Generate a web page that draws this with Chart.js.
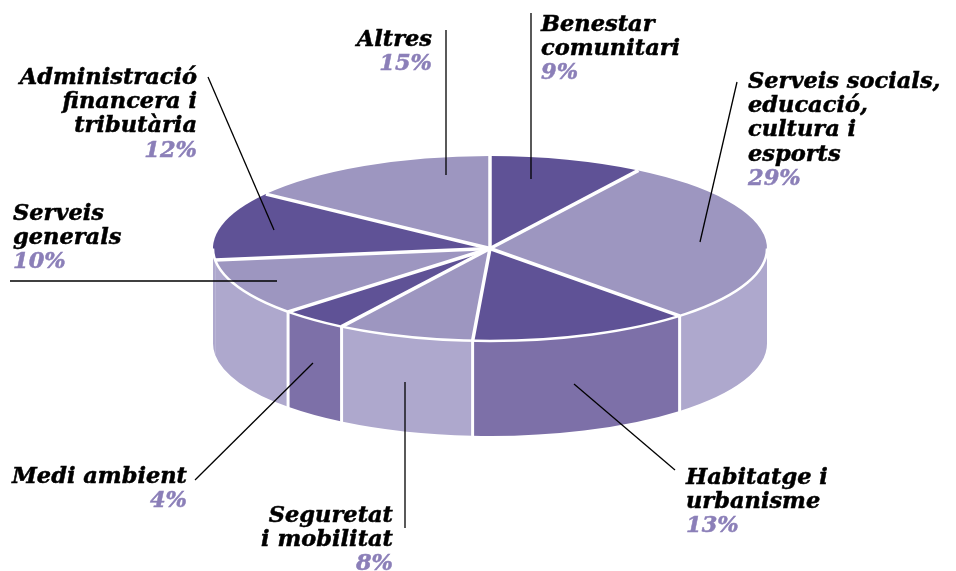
<!DOCTYPE html>
<html>
<head>
<meta charset="utf-8">
<title>Despesa per àrees</title>
<script src="https://cdn.jsdelivr.net/npm/chart.js@4"></script>
<style>
  html, body { margin: 0; padding: 0; background: #fff; }
  canvas { display: block; }
</style>
</head>
<body>
<canvas id="pieChart" width="956" height="571"></canvas>
<script>
// data, clockwise from the top
const categories = ["Benestar comunitari", "Serveis socials, educació, cultura i esports", "Habitatge i urbanisme",
  "Seguretat i mobilitat", "Medi ambient", "Serveis generals", "Administració financera i tributària", "Altres"];
const shares = [9, 29, 13, 8, 4, 10, 12, 15];

// colours
const topColors = ["#5f5296", "#9d96c0", "#5f5296", "#9d96c0", "#5f5296", "#9d96c0", "#5f5296", "#9d96c0"];
const wallColors = ["#7d70a8", "#aea8cd", "#7d70a8", "#aea8cd", "#7d70a8", "#aea8cd", "#aea8cd", "#aea8cd"];
const PERCENT_COLOR = "#8b7fb8";

// look of the fake 3d disc
const CENTER_X = 490;
const CENTER_Y = 248.5;
const RADIUS = 277;
const SQUASH = 0.334;
const DEPTH = 95;

// annotations: text lines, align, x, first baseline
const labelLayout = [
  { lines: ["Benestar", "comunitari"], align: "left", x: 541, y: 31 },
  { lines: ["Serveis socials,", "educació,", "cultura i", "esports"], align: "left", x: 748, y: 88 },
  { lines: ["Habitatge i", "urbanisme"], align: "left", x: 686, y: 484 },
  { lines: ["Seguretat", "i mobilitat"], align: "right", x: 393, y: 522 },
  { lines: ["Medi ambient"], align: "right", x: 187, y: 483 },
  { lines: ["Serveis", "generals"], align: "left", x: 13, y: 220 },
  { lines: ["Administració", "financera i", "tributària"], align: "right", x: 197, y: 84 },
  { lines: ["Altres"], align: "right", x: 432, y: 46 },
];
const leaders = [
  [531, 13, 531, 179],
  [737, 82, 700, 242],
  [574, 384, 675, 470],
  [405, 382, 405, 528],
  [313, 363, 195, 480],
  [10, 281, 277, 281],
  [208, 77, 274, 230],
  [446, 30, 446, 175],
];
const LINE_HEIGHT = 24.2;
const LABEL_FONT = "italic bold 22.5px 'DejaVu Serif'";

const disc3d = {
  id: "disc3d",
  beforeDatasetsDraw(chart) {
    const ctx = chart.ctx;
    const arcs = chart.getDatasetMeta(0).data;
    const ry = RADIUS * SQUASH;
    ctx.save();
    // side walls, only the part of each slice facing us
    arcs.forEach((arc, i) => {
      const a0 = Math.max(norm(arc.startAngle), 0);
      const a1 = Math.min(norm(arc.startAngle) + (arc.endAngle - arc.startAngle), Math.PI);
      if (a1 <= a0) return;
      ctx.beginPath();
      ctx.ellipse(CENTER_X, CENTER_Y, arc.outerRadius, ry, 0, a0, a1);
      ctx.ellipse(CENTER_X, CENTER_Y + DEPTH, arc.outerRadius, ry, 0, a1, a0, true);
      ctx.closePath();
      ctx.fillStyle = wallColors[i];
      ctx.fill();
    });
    // white lines between the walls, none right at the left edge
    ctx.strokeStyle = "#fff";
    ctx.lineWidth = 3;
    arcs.forEach((arc) => {
      const a = norm(arc.startAngle);
      if (a <= 0 || a >= 2.9) return;
      const x = CENTER_X + Math.cos(a) * arc.outerRadius;
      const y = CENTER_Y + Math.sin(a) * ry;
      ctx.beginPath();
      ctx.moveTo(x, y);
      ctx.lineTo(x, y + DEPTH + 2);
      ctx.stroke();
    });
    ctx.restore();

    // squash the pie itself
    const first = arcs[0];
    ctx.save();
    ctx.translate(CENTER_X, CENTER_Y);
    ctx.scale(1, SQUASH);
    ctx.translate(-first.x, -first.y);
  },
  afterDatasetsDraw(chart) {
    const ctx = chart.ctx;
    ctx.restore();
    const arcs = chart.getDatasetMeta(0).data;
    const ry = RADIUS * SQUASH;
    ctx.save();
    ctx.strokeStyle = "#fff";
    // rim on the front edge
    ctx.lineWidth = 2.5;
    ctx.beginPath();
    ctx.ellipse(CENTER_X, CENTER_Y, arcs[0].outerRadius, ry, 0, 0, Math.PI);
    ctx.stroke();
    // separators keep the same width on screen
    ctx.lineWidth = 3.5;
    arcs.forEach((arc) => {
      ctx.beginPath();
      ctx.moveTo(CENTER_X, CENTER_Y);
      ctx.lineTo(CENTER_X + Math.cos(arc.startAngle) * arc.outerRadius, CENTER_Y + Math.sin(arc.startAngle) * ry);
      ctx.stroke();
    });
    ctx.restore();
  },
  afterDraw(chart) {
    const ctx = chart.ctx;
    ctx.save();
    ctx.strokeStyle = "#000";
    ctx.lineWidth = 1.3;
    leaders.forEach((l) => {
      ctx.beginPath();
      ctx.moveTo(l[0], l[1]);
      ctx.lineTo(l[2], l[3]);
      ctx.stroke();
    });
    ctx.font = LABEL_FONT;
    ctx.textBaseline = "alphabetic";
    ctx.lineWidth = 0.5; // the reference type is heavier than DejaVu bold
    const put = (text, x, y, color) => {
      ctx.fillStyle = color;
      ctx.strokeStyle = color;
      ctx.fillText(text, x, y);
      ctx.strokeText(text, x, y);
    };
    labelLayout.forEach((lab, i) => {
      ctx.textAlign = lab.align;
      lab.lines.forEach((line, n) => put(line, lab.x, lab.y + n * LINE_HEIGHT, "#000"));
      put(shares[i] + "%", lab.x, lab.y + lab.lines.length * LINE_HEIGHT, PERCENT_COLOR);
    });
    ctx.restore();
  },
};

function norm(a) {
  // angle into -PI..PI range
  let r = a % (Math.PI * 2);
  if (r > Math.PI) r -= Math.PI * 2;
  if (r < -Math.PI) r += Math.PI * 2;
  return r;
}

new Chart(document.getElementById("pieChart").getContext("2d"), {
  type: "pie",
  data: {
    labels: categories,
    datasets: [{
      data: shares,
      backgroundColor: topColors,
      borderWidth: 0,
      clip: false,
    }],
  },
  options: {
    responsive: false,
    animation: false,
    radius: RADIUS,
    plugins: { legend: { display: false }, tooltip: { enabled: false } },
  },
  plugins: [disc3d],
});
</script>
</body>
</html>
